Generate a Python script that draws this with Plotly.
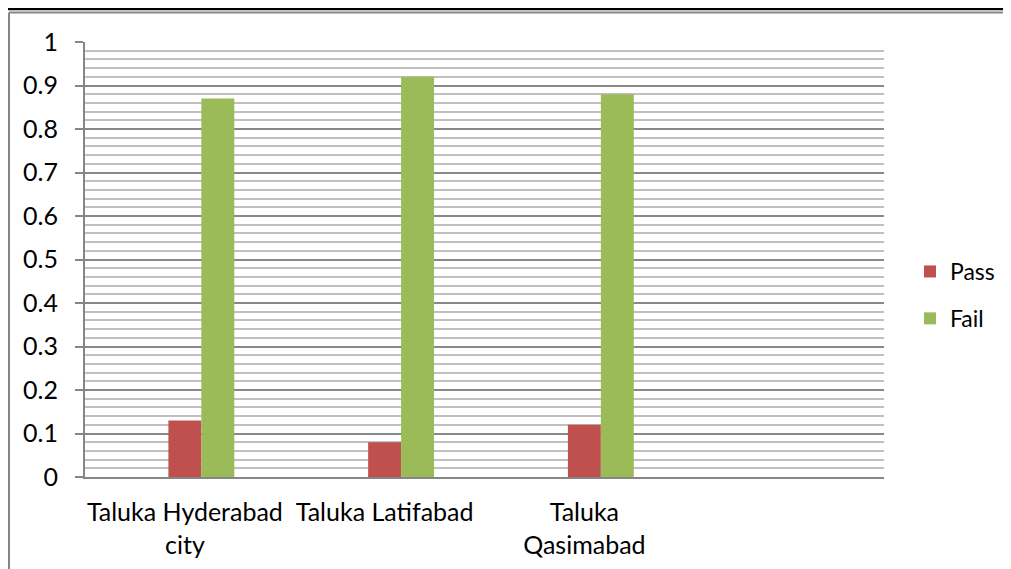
import plotly.graph_objects as go

# Data
categories = ["Taluka Hyderabad city", "Taluka Latifabad", "Taluka Qasimabad"]
tick_labels = ["Taluka Hyderabad<br>city", "Taluka Latifabad", "Taluka<br>Qasimabad"]
pass_vals = [0.13, 0.08, 0.12]
fail_vals = [0.87, 0.92, 0.88]
series_names = ["Pass", "Fail"]
series_colors = ["#C0504D", "#9BBB59"]

# page places the figure at (8, 8); work in figure coordinates
OFF = 8
W, H = 1011 - OFF, 569 - OFF
L, R, T, B = 85 - OFF, W - (884 - OFF), 42 - OFF, H - (477 - OFF)
pw, ph = W - L - R, H - T - B

def px_x(p):
    return (p - L) / pw

def px_y(p):
    return (H - B - p) / ph

FONT = "Lato, 'Open Sans', sans-serif"
x_pos = list(range(len(categories)))
bw = 0.165

fig = go.Figure()
for name, vals, col, off, grp in [
    (series_names[0], pass_vals, series_colors[0], -bw / 2, "a"),
    (series_names[1], fail_vals, series_colors[1], bw / 2, "b"),
]:
    fig.add_trace(go.Bar(
        x=x_pos, y=vals, name=name, width=bw, offset=off,
        marker=dict(color=col, line=dict(width=0)),
        legendgroup=grp,
    ))

fig.update_layout(
    width=W, height=H,
    margin=dict(l=L, r=R, t=T, b=B, autoexpand=False),
    paper_bgcolor="white", plot_bgcolor="white",
    font=dict(family=FONT, size=25, color="#000000"),
    barmode="group",
    showlegend=True,
    legend=dict(
        x=px_x(910 - OFF), y=px_y(295 - OFF), xanchor="left", yanchor="middle",
        font=dict(size=23), traceorder="grouped", tracegroupgap=14,
        bgcolor="rgba(0,0,0,0)",
    ),
    xaxis=dict(
        range=[-0.5, 3.5], tickvals=x_pos, ticktext=tick_labels,
        showgrid=False, zeroline=False, showline=True,
        linecolor="#868686", linewidth=2, ticks="", ticklabelstandoff=12,
        tickfont=dict(size=25),
    ),
    yaxis=dict(
        range=[0, 1], dtick=0.1, tick0=0, tickformat="~g",
        showgrid=True, gridcolor="#888888", gridwidth=2,
        zeroline=False, showline=True, linecolor="#868686", linewidth=2,
        ticks="outside", ticklen=8, tickwidth=2, tickcolor="#868686",
        ticklabelstandoff=12, tickfont=dict(size=25),
        minor=dict(dtick=0.02, showgrid=True, gridcolor="#C0C0C0", gridwidth=2, ticks=""),
    ),
    shapes=[
        dict(type="line", xref="paper", yref="paper", x0=px_x(0), x1=px_x(W), y0=px_y(1), y1=px_y(1),
             line=dict(color="#000000", width=2.5)),
        dict(type="line", xref="paper", yref="paper", x0=px_x(1), x1=px_x(W), y0=px_y(4.5), y1=px_y(4.5),
             line=dict(color="#868686", width=2)),
        dict(type="line", xref="paper", yref="paper", x0=px_x(1), x1=px_x(1), y0=px_y(4.5), y1=px_y(H),
             line=dict(color="#868686", width=2)),
    ],
)

fig.write_html("out.html")
